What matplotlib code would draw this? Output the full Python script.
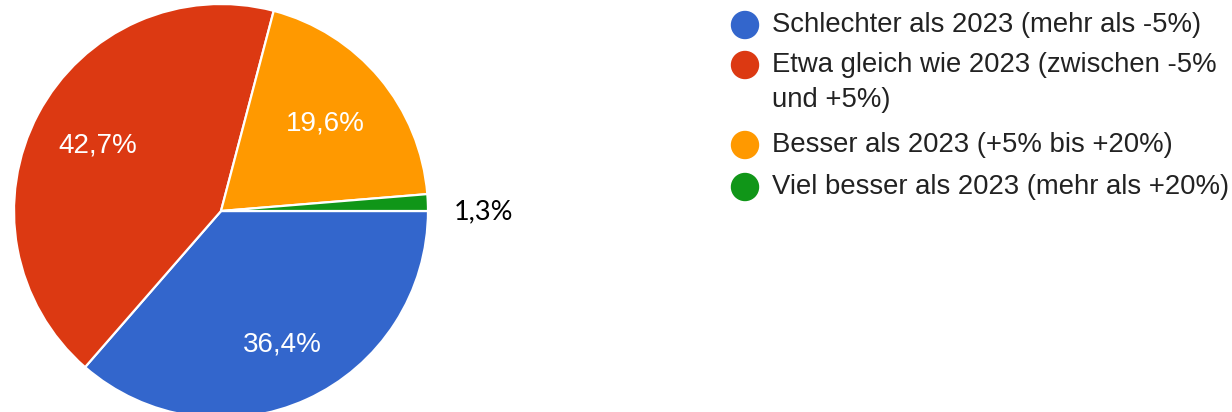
import numpy as np
import matplotlib
matplotlib.use("Agg")
import matplotlib.pyplot as plt
from matplotlib.patches import Circle

categories = [
    "Schlechter als 2023 (mehr als -5%)",
    "Etwa gleich wie 2023 (zwischen -5%\nund +5%)",
    "Besser als 2023 (+5% bis +20%)",
    "Viel besser als 2023 (mehr als +20%)",
]
values = [36.4, 42.7, 19.6, 1.3]
pct_labels = ["36,4%", "42,7%", "19,6%", "1,3%"]
colors = ["#3366CC", "#DC3912", "#FF9900", "#109618"]

W, H = 1232, 412
fig = plt.figure(figsize=(W / 100, H / 100), dpi=100)
fig.patch.set_facecolor("white")

# pie axes: center (221,211) px, radius 207 px
cx, cy, r = 221, 211, 207
ax = fig.add_axes([(cx - r) / W, (H - (cy + r)) / H, 2 * r / W, 2 * r / H])
wedges, _ = ax.pie(values, colors=colors, startangle=0, counterclock=False,
                   radius=1.0, wedgeprops=dict(edgecolor="white", linewidth=1.6))
ax.set_xlim(-1, 1)
ax.set_ylim(-1, 1)
ax.set_aspect("equal")
ax.axis("off")

# percentage labels
dists = [0.71, 0.675, 0.66]
for i, w in enumerate(wedges):
    ang = np.deg2rad((w.theta1 + w.theta2) / 2)
    if i < 3:
        d = dists[i]
        ax.text(d * np.cos(ang), d * np.sin(ang), pct_labels[i], color="white",
                ha="center", va="center", fontsize=20, family="Liberation Sans")
    else:
        ax.text(1.27, -0.005, pct_labels[i], color="black",
                ha="center", va="center", fontsize=19.5, family="Lato",
                clip_on=False)

# legend in pixel coordinate overlay
lax = fig.add_axes([0, 0, 1, 1])
lax.set_xlim(0, W)
lax.set_ylim(H, 0)
lax.axis("off")
row_y = [25, 65, 145, 187]
for yy, lab, col in zip(row_y, categories, colors):
    lax.add_patch(Circle((745, yy), 13.5, color=col))
    for k, line in enumerate(lab.split("\n")):
        lax.text(772, yy + 35 * k, line, color="#222222", fontsize=19.8,
                 family="Liberation Sans", ha="left", va="center")

fig.savefig("out.png", dpi=100)
